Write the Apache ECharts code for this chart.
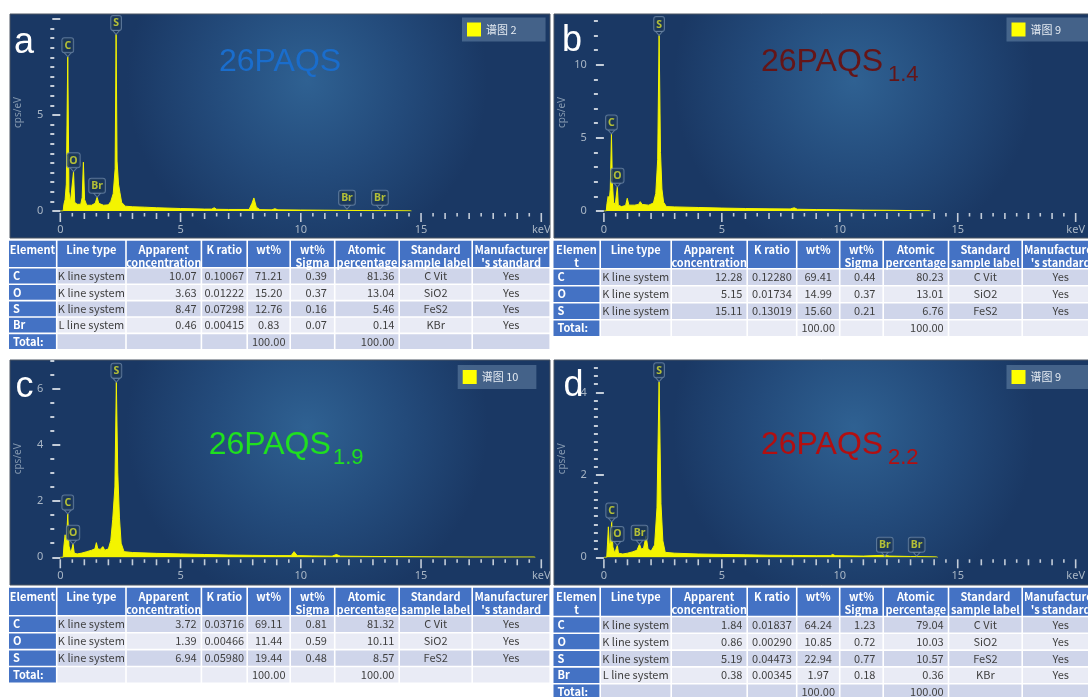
<!DOCTYPE html>
<html>
<head>
<meta charset="utf-8">
<script src="https://cdn.jsdelivr.net/npm/echarts@6/dist/echarts.min.js"></script>
<style>
html,body{margin:0;padding:0;background:#ffffff;}
#chart{width:1088px;height:697px;}
</style>
</head>
<body>
<div id="chart"></div>
<script>
// ---- EDS spectra: [energy keV, counts cps/eV] ----
const specA = [[0,0],[0.12,0],[0.15,0.35],[0.2,0.6],[0.25,1.4],[0.31,8.04],[0.36,1.0],[0.42,0.45],[0.5,0.55],[0.55,2.05],[0.6,0.45],[0.7,0.35],[0.85,0.35],[0.91,0.7],[0.96,2.54],[1.01,0.6],[1.1,0.3],[1.3,0.3],[1.45,0.4],[1.53,0.72],[1.6,0.4],[1.8,0.3],[2.0,0.32],[2.1,0.5],[2.2,0.9],[2.28,2.2],[2.32,9.2],[2.36,2.6],[2.42,1.4],[2.48,0.95],[2.55,0.45],[2.7,0.25],[3,0.22],[3.5,0.2],[4,0.17],[5,0.13],[6,0.1],[6.3,0.1],[6.4,0.17],[6.5,0.09],[7,0.08],[7.85,0.08],[7.97,0.4],[8.05,0.68],[8.15,0.2],[8.3,0.07],[8.8,0.06],[8.92,0.12],[9.05,0.06],[10,0.05],[11,0.04],[12,0.03],[13,0.02],[14,0.015],[14.55,0.01],[14.6,0]];
const specB = [[0,0],[0.1,0],[0.13,0.5],[0.18,1.0],[0.22,0.6],[0.27,1.5],[0.32,5.27],[0.36,1.94],[0.41,0.6],[0.48,0.45],[0.53,0.55],[0.57,1.64],[0.61,0.4],[0.75,0.3],[0.92,0.38],[0.99,0.87],[1.06,0.4],[1.3,0.4],[1.47,0.45],[1.54,0.64],[1.62,0.45],[1.9,0.4],[2.1,0.55],[2.2,1.2],[2.28,3.5],[2.34,12.0],[2.4,4.0],[2.46,1.5],[2.53,0.6],[2.65,0.3],[3,0.28],[4,0.24],[5,0.2],[6,0.17],[7,0.15],[7.9,0.14],[8.07,0.22],[8.2,0.12],[9,0.1],[10,0.08],[11,0.06],[12,0.05],[13,0.03],[13.8,0.02],[13.85,0]];
const specC = [[0,0],[0.12,0],[0.15,0.4],[0.2,0.8],[0.25,0.45],[0.31,1.54],[0.36,0.4],[0.44,0.15],[0.48,0.2],[0.53,0.47],[0.58,0.15],[0.7,0.12],[0.9,0.15],[1.1,0.2],[1.3,0.25],[1.44,0.3],[1.5,0.52],[1.56,0.3],[1.66,0.28],[1.77,0.38],[1.85,0.25],[2.0,0.3],[2.1,0.6],[2.18,1.35],[2.27,2.5],[2.33,6.22],[2.39,3.0],[2.46,1.4],[2.53,0.5],[2.65,0.2],[3,0.17],[4,0.14],[5,0.12],[6,0.1],[7,0.08],[8,0.07],[9,0.06],[9.6,0.06],[9.72,0.2],[9.85,0.06],[10.5,0.05],[11.3,0.04],[11.48,0.1],[11.65,0.04],[13,0.03],[15,0.02],[17,0.012],[19.7,0.01],[19.75,0]];
const specD = [[0,0],[0.12,0],[0.15,0.3],[0.19,0.74],[0.23,0.3],[0.27,0.35],[0.33,0.86],[0.38,0.25],[0.46,0.1],[0.52,0.12],[0.57,0.29],[0.62,0.1],[0.8,0.08],[1.0,0.1],[1.2,0.13],[1.4,0.17],[1.51,0.32],[1.58,0.2],[1.68,0.22],[1.79,0.52],[1.87,0.2],[2.0,0.15],[2.15,0.3],[2.25,1.2],[2.34,4.26],[2.42,1.3],[2.5,0.4],[2.6,0.12],[3,0.1],[4,0.08],[5,0.07],[6,0.06],[7,0.05],[8,0.045],[9,0.04],[9.6,0.04],[9.7,0.07],[9.8,0.04],[11,0.03],[11.9,0.05],[12.1,0.03],[13,0.02],[14.1,0.01],[14.15,0]];

// ---- element line markers: [element, energy keV, peak cps/eV] ----
const peaksA = [['C',0.31,8.04],['O',0.55,2.05],['Br',1.53,0.72],['S',2.32,9.2],['Br',11.92,0.1],['Br',13.29,0.1]];
const peaksB = [['C',0.32,5.27],['O',0.57,1.64],['S',2.34,12.0]];
const peaksC = [['C',0.31,1.54],['O',0.53,0.47],['S',2.33,6.22]];
const peaksD = [['C',0.33,0.86],['O',0.57,0.29],['Br',1.51,0.32],['S',2.34,4.26],['Br',11.91,0.03],['Br',13.26,0.03]];

// ---- axis ticks ----
const xTicks = [0, 5, 10, 15, 20];
const xWholeTicks = [1, 2, 3, 4, 6, 7, 8, 9, 11, 12, 13, 14, 16, 17, 18, 19];
const yTicksA = [0, 5, 10], yLabelsA = [0, 5];
const yTicksB = [0, 5, 10], yLabelsB = [0, 5, 10];
const yTicksC = [0, 2, 4, 6], yLabelsC = [0, 2, 4, 6];
const yTicksD = [0, 2, 4], yLabelsD = [0, 2, 4];

// ---- spectrum names and sample titles ----
const spectrumNames = ['谱图 2', '谱图 9', '谱图 10', '谱图 9'];
const panelLetters = ['a', 'b', 'c', 'd'];
const sampleMain = ['26PAQS', '26PAQS', '26PAQS', '26PAQS'];
const sampleSub = ['', '1.4', '1.9', '2.2'];

// ---- quantification tables ----
const headerWide = ['Element', 'Line type', 'Apparent\nconcentration', 'K ratio', 'wt%', 'wt%\nSigma', 'Atomic\npercentage', 'Standard\nsample label', "Manufacturer\n's standard"];
const headerNarrow = ['Elemen\nt', 'Line type', 'Apparent\nconcentration', 'K ratio', 'wt%', 'wt%\nSigma', 'Atomic\npercentage', 'Standard\nsample label', "Manufacturer\n's standard"];
const rowsA = [
  ['C', 'K line system', '10.07', '0.10067', '71.21', '0.39', '81.36', 'C Vit', 'Yes'],
  ['O', 'K line system', '3.63', '0.01222', '15.20', '0.37', '13.04', 'SiO2', 'Yes'],
  ['S', 'K line system', '8.47', '0.07298', '12.76', '0.16', '5.46', 'FeS2', 'Yes'],
  ['Br', 'L line system', '0.46', '0.00415', '0.83', '0.07', '0.14', 'KBr', 'Yes'],
  ['Total:', '', '', '', '100.00', '', '100.00', '', '']
];
const rowsB = [
  ['C', 'K line system', '12.28', '0.12280', '69.41', '0.44', '80.23', 'C Vit', 'Yes'],
  ['O', 'K line system', '5.15', '0.01734', '14.99', '0.37', '13.01', 'SiO2', 'Yes'],
  ['S', 'K line system', '15.11', '0.13019', '15.60', '0.21', '6.76', 'FeS2', 'Yes'],
  ['Total:', '', '', '', '100.00', '', '100.00', '', '']
];
const rowsC = [
  ['C', 'K line system', '3.72', '0.03716', '69.11', '0.81', '81.32', 'C Vit', 'Yes'],
  ['O', 'K line system', '1.39', '0.00466', '11.44', '0.59', '10.11', 'SiO2', 'Yes'],
  ['S', 'K line system', '6.94', '0.05980', '19.44', '0.48', '8.57', 'FeS2', 'Yes'],
  ['Total:', '', '', '', '100.00', '', '100.00', '', '']
];
const rowsD = [
  ['C', 'K line system', '1.84', '0.01837', '64.24', '1.23', '79.04', 'C Vit', 'Yes'],
  ['O', 'K line system', '0.86', '0.00290', '10.85', '0.72', '10.03', 'SiO2', 'Yes'],
  ['S', 'K line system', '5.19', '0.04473', '22.94', '0.77', '10.57', 'FeS2', 'Yes'],
  ['Br', 'L line system', '0.38', '0.00345', '1.97', '0.18', '0.36', 'KBr', 'Yes'],
  ['Total:', '', '', '', '100.00', '', '100.00', '', '']
];

// ---- layout ----
const layout = [
  { box: [10, 14, 540, 224], grid: { left: 60.3, top: 14, width: 481, height: 197 }, ymax: 10.26, minorStep: 0.5,
    letter: [14, 43], title: [219, 62], sub: [345.5, 75], titleColor: '#1a6dcc', legend: [462, 17.5, 29],
    table: { x: [9, 57.5, 126.8, 202.2, 248, 291, 335.5, 400, 473, 551], y: 240.7, hh: 26.3, pitch: 16.4 } },
  { box: [554, 14, 545, 224], grid: { left: 603.9, top: 14, width: 483, height: 197 }, ymax: 13.47, minorStep: 1,
    letter: [562, 41], title: [761, 62], sub: [888, 75], titleColor: '#651517', legend: [1006.5, 17.5, 70],
    table: { x: [553.5, 601, 672, 748, 797.5, 840.5, 884, 949.3, 1023, 1100], y: 240.7, hh: 27.3, pitch: 17.0 } },
  { box: [10, 360, 540, 225], grid: { left: 60.3, top: 360.3, width: 481, height: 197 }, ymax: 7.0, minorStep: 0.5,
    letter: [15.5, 387], title: [208.7, 445.3], sub: [333, 458], titleColor: '#1fe01f', legend: [457.7, 365, 18],
    table: { x: [9, 57.5, 126.8, 202.2, 248, 291, 335.5, 400, 473, 551], y: 587.7, hh: 27.3, pitch: 16.9 } },
  { box: [554, 360, 545, 225], grid: { left: 603.9, top: 360.3, width: 483, height: 197 }, ymax: 4.78, minorStep: 0.2,
    letter: [563.5, 386.5], title: [761, 445.3], sub: [888, 458], titleColor: '#b20f10', legend: [1006.5, 365, 70],
    table: { x: [553.5, 601, 672, 748, 797.5, 840.5, 884, 949.3, 1023, 1100], y: 587.7, hh: 28, pitch: 16.8 } }
];

const specs = [specA, specB, specC, specD];
const peaks = [peaksA, peaksB, peaksC, peaksD];
const yTicks = [yTicksA, yTicksB, yTicksC, yTicksD];
const yLabels = [yLabelsA, yLabelsB, yLabelsC, yLabelsD];
const tables = [rowsA, rowsB, rowsC, rowsD];
const headers = [headerWide, headerNarrow, headerWide, headerNarrow];

const AXIS_COL = '#c3ccd8';
const LABEL_COL = '#a9b6c5';
const LATIN = '"Liberation Sans", Arial, sans-serif';
const CJK = '"Noto Sans CJK SC", "Noto Sans", sans-serif';

function minorValues(major, top, step) {
  const out = [];
  const n = Math.floor(top / step + 1e-9);
  for (let i = 1; i <= n; i++) {
    const v = Math.round(i * step * 1000) / 1000;
    if (!major.some(m => Math.abs(m - v) < 1e-6)) out.push(v);
  }
  return out;
}
const xHalfTicks = minorValues([], 20, 0.5).filter(v => v % 1 !== 0);

// energy tick marks hang below the baseline; drawn through the x scale
function energyTicks(gridIdx, values, len) {
  return {
    type: 'custom', xAxisIndex: gridIdx, yAxisIndex: 2 * gridIdx, clip: false, silent: true, z: 10,
    data: values.map(v => [v]),
    renderItem: (params, api) => {
      const p = api.coord([api.value(0), 0]);
      return { type: 'line', shape: { x1: p[0], y1: p[1] + 2, x2: p[0], y2: p[1] + 2 + len },
        style: { stroke: AXIS_COL, lineWidth: 1.6 } };
    }
  };
}

const grids = [], xAxes = [], yAxes = [], series = [], legends = [], graphics = [];

layout.forEach((L, i) => {
  grids.push(Object.assign({ containLabel: false }, L.grid));

  // energy axis labels every 5 keV
  xAxes.push({
    type: 'value', gridIndex: i, min: 0, max: 20, position: 'bottom',
    axisLine: { show: false }, splitLine: { show: false }, axisTick: { show: false },
    axisLabel: { customValues: xTicks, color: LABEL_COL, fontSize: 11, fontFamily: '"Noto Sans", sans-serif', margin: 13,
      formatter: v => (v === 20 ? 'keV' : String(v)) }
  });

  // intensity axis: labelled major ticks
  yAxes.push({
    type: 'value', gridIndex: i, min: 0, max: L.ymax, position: 'left', offset: 6,
    axisLine: { show: false }, splitLine: { show: false },
    axisTick: { show: true, length: 8, customValues: yTicks[i], lineStyle: { color: AXIS_COL, width: 2 } },
    axisLabel: { show: true, customValues: yLabels[i], color: LABEL_COL, fontSize: 11,
      fontFamily: '"Noto Sans", sans-serif', margin: 11 },
    name: 'cps/eV', nameLocation: 'middle', nameRotate: 90, nameGap: 31,
    nameTextStyle: { color: '#8397ae', fontSize: 10, fontFamily: '"Noto Sans", sans-serif' }
  });
  // short minor ticks
  yAxes.push({
    type: 'value', gridIndex: i, min: 0, max: L.ymax, position: 'left', offset: 6,
    axisLine: { show: false }, splitLine: { show: false }, axisLabel: { show: false },
    axisTick: { show: true, length: 4, customValues: minorValues(yTicks[i], L.ymax, L.minorStep),
      lineStyle: { color: AXIS_COL, width: 2 } }
  });

  series.push({
    name: spectrumNames[i], type: 'line', xAxisIndex: i, yAxisIndex: 2 * i,
    data: specs[i], showSymbol: false, smooth: false, clip: true,
    color: '#ffff00',
    lineStyle: { color: '#f4f400', width: 1 },
    areaStyle: { color: '#f4f400', opacity: 1 },
    z: 2
  });
  series.push({
    type: 'scatter', xAxisIndex: i, yAxisIndex: 2 * i,
    data: peaks[i].map(p => ({ name: p[0], value: [p[1], p[2]] })),
    symbol: 'path://M0,0 L10,0 L5,6 Z', symbolSize: [7, 4], symbolOffset: [0, '-50%'],
    itemStyle: { color: '#1a3658', borderColor: '#6983a3', borderWidth: 1 },
    label: {
      show: true, position: 'top', distance: 0, formatter: '{b}',
      color: '#d9e12e', fontSize: 10.5, fontWeight: 'bold', fontFamily: '"Noto Sans", sans-serif',
      backgroundColor: '#1a3658', borderColor: '#6983a3', borderWidth: 1, borderRadius: 2,
      padding: [2, 2, 1, 2]
    },
    z: 5, silent: true
  });
  series.push(energyTicks(i, xTicks, 9));
  series.push(energyTicks(i, xWholeTicks, 6));
  series.push(energyTicks(i, xHalfTicks, 3.5));

  legends.push({
    data: [spectrumNames[i]], left: L.legend[0], top: L.legend[1],
    backgroundColor: 'rgba(120,150,182,0.45)', padding: [5, L.legend[2], 5, 5],
    icon: 'rect', itemWidth: 14, itemHeight: 14, itemGap: 6,
    textStyle: { color: '#e4eaf1', fontSize: 11, fontFamily: CJK }
  });

  // panel background
  graphics.push({
    type: 'rect', z: -10,
    shape: { x: L.box[0], y: L.box[1], width: L.box[2], height: L.box[3] },
    style: {
      fill: new echarts.graphic.RadialGradient(0.55, 0.3, 0.8, [
        { offset: 0, color: '#2f6192' }, { offset: 0.55, color: '#234a7a' }, { offset: 1, color: '#1a3864' }
      ]),
      stroke: '#4b5562', lineWidth: 1
    }
  });

  // panel letter
  graphics.push({
    type: 'text', z: 20, x: L.letter[0], y: L.letter[1],
    style: { text: panelLetters[i], fill: '#ffffff', font: '36px ' + LATIN,
      textAlign: 'left', align: 'left', textVerticalAlign: 'middle', verticalAlign: 'middle' }
  });
  // sample title with subscript
  graphics.push({
    type: 'text', z: 20, x: L.title[0], y: L.title[1],
    style: { text: sampleMain[i], fill: L.titleColor, font: '32px ' + LATIN,
      textAlign: 'left', align: 'left', textVerticalAlign: 'middle', verticalAlign: 'middle' }
  });
  if (sampleSub[i]) {
    graphics.push({
      type: 'text', z: 20, x: L.sub[0], y: L.sub[1],
      style: { text: sampleSub[i], fill: L.titleColor, font: '22px ' + LATIN,
        textAlign: 'left', align: 'left', textVerticalAlign: 'middle', verticalAlign: 'middle' }
    });
  }

  // quantification table
  const T = L.table, gap = 1.6;
  const aligns = ['left', 'center', 'right', 'center', 'center', 'right', 'right', 'center', 'center'];
  const pads = [4, 0, 4, 0, 0, 7, 4, 0, 0];
  const hdr = headers[i];
  for (let c = 0; c < 9; c++) {
    const x0 = T.x[c], w = T.x[c + 1] - T.x[c] - gap;
    graphics.push({ type: 'rect', z: 1, shape: { x: x0, y: T.y, width: w, height: T.hh }, style: { fill: '#4472c4' } });
    graphics.push({
      type: 'text', z: 2, x: x0 + w / 2, y: T.y + 3,
      style: { text: hdr[c], fill: '#ffffff', font: 'bold 11px ' + CJK, lineHeight: 12.6,
        textAlign: 'center', align: 'center', textVerticalAlign: 'top', verticalAlign: 'top' }
    });
  }
  const rows = tables[i];
  rows.forEach((row, r) => {
    const y0 = T.y + T.hh + gap + r * T.pitch, h = T.pitch - gap;
    for (let c = 0; c < 9; c++) {
      const x0 = T.x[c], w = T.x[c + 1] - T.x[c] - gap;
      const fill = c === 0 ? '#4472c4' : (r % 2 === 0 ? '#cfd5ea' : '#e9ebf5');
      graphics.push({ type: 'rect', z: 1, shape: { x: x0, y: y0, width: w, height: h }, style: { fill } });
      if (!row[c]) continue;
      const al = aligns[c];
      const tx = al === 'left' ? x0 + pads[c] : al === 'right' ? x0 + w - pads[c] : x0 + w / 2;
      graphics.push({
        type: 'text', z: 2, x: tx, y: y0 + h / 2,
        style: { text: row[c], fill: c === 0 ? '#ffffff' : '#3f3f3f',
          font: (c === 0 ? 'bold ' : '') + '11px ' + CJK,
          textAlign: al, align: al, textVerticalAlign: 'middle', verticalAlign: 'middle' }
      });
    }
  });
});

const chart = echarts.init(document.getElementById('chart'), null, { renderer: 'canvas', width: 1088, height: 697 });
chart.setOption({
  animation: false,
  backgroundColor: '#ffffff',
  grid: grids,
  xAxis: xAxes,
  yAxis: yAxes,
  legend: legends,
  series: series,
  graphic: { elements: graphics }
});
</script>
</body>
</html>
